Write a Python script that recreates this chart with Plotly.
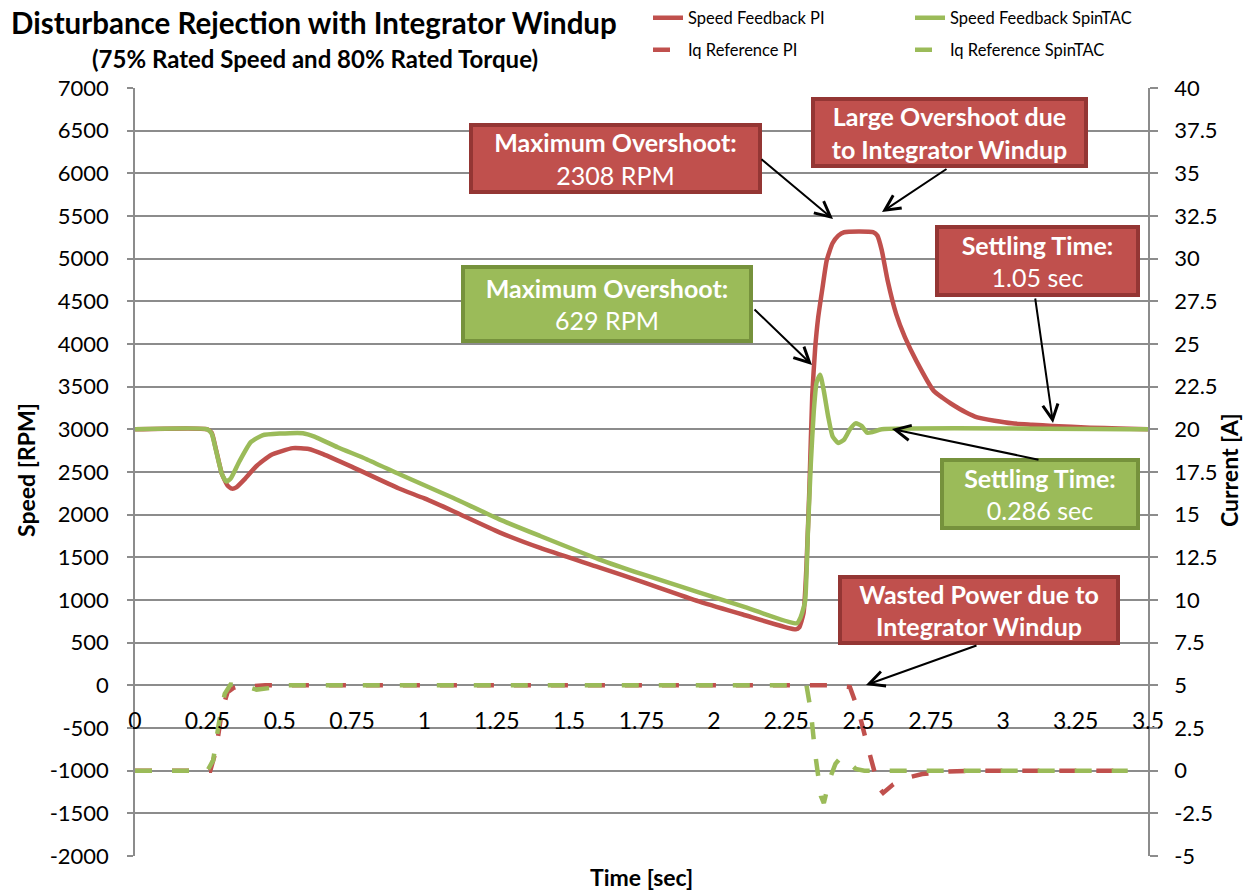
import plotly.graph_objects as go

# ---------------- data ----------------
t_speed_pi = [0, 0.25, 0.265, 0.28, 0.30, 0.32, 0.335, 0.35, 0.38, 0.42, 0.47, 0.545, 0.60, 0.65, 0.75,
              0.91, 1.0, 1.1, 1.259, 1.4, 1.603, 1.75, 1.948, 2.1, 2.283, 2.295, 2.31, 2.32, 2.33, 2.34,
              2.35, 2.36, 2.375, 2.39, 2.41, 2.43, 2.45, 2.55, 2.565, 2.58, 2.60, 2.63, 2.66, 2.70, 2.76,
              2.79, 2.82, 2.87, 2.91, 2.97, 3.03, 3.10, 3.17, 3.3, 3.4, 3.5]
speed_pi = [3000, 3000, 2960, 2760, 2480, 2340, 2305, 2320, 2420, 2570, 2700, 2780, 2770, 2710, 2560,
            2310, 2190, 2040, 1793, 1610, 1383, 1215, 984, 830, 656, 680, 850, 1400, 2300, 3400,
            3950, 4300, 4650, 4980, 5180, 5270, 5310, 5310, 5270, 5100, 4750, 4350, 4080, 3800, 3450,
            3370, 3300, 3200, 3140, 3100, 3070, 3055, 3040, 3020, 3010, 3000]

t_speed_st = [0, 0.25, 0.265, 0.28, 0.30, 0.315, 0.33, 0.36, 0.40, 0.44, 0.50, 0.58, 0.62, 0.70, 0.80,
              0.914, 1.0, 1.1, 1.259, 1.4, 1.603, 1.75, 1.948, 2.1, 2.286, 2.30, 2.315, 2.325, 2.335,
              2.345, 2.355, 2.367, 2.38, 2.395, 2.41, 2.43, 2.45, 2.47, 2.49, 2.51, 2.53, 2.55, 2.58, 3.5]
speed_st = [3000, 3000, 2950, 2750, 2480, 2390, 2420, 2620, 2850, 2930, 2950, 2955, 2915, 2790, 2650,
            2473, 2345, 2195, 1945, 1750, 1477, 1305, 1090, 925, 727, 800, 980, 1800, 2600,
            3200, 3550, 3640, 3450, 3150, 2920, 2840, 2880, 3000, 3070, 3040, 2960, 2970, 3000, 3000]

t_iq_pi = [0, 0.26, 0.28, 0.30, 0.32, 0.34, 0.37, 0.40, 0.45, 0.6, 2.41, 2.47, 2.50, 2.53, 2.55, 2.57,
           2.585, 2.62, 2.66, 2.72, 2.8, 2.9, 3.43]
iq_pi = [0, 0, 1.2, 3.5, 4.6, 4.85, 5.0, 4.95, 5.0, 5.0, 5.0, 4.9, 3.5, 1.5, 0.2, -1.0,
         -1.3, -0.8, -0.45, -0.2, -0.05, 0, 0]

t_iq_st = [0, 0.25, 0.27, 0.29, 0.31, 0.33, 0.37, 0.42, 0.47, 0.52, 2.32, 2.335, 2.35, 2.37, 2.38,
           2.40, 2.42, 2.44, 2.46, 2.49, 2.52, 3.43]
iq_st = [0, 0, 0.6, 2.8, 4.5, 5.05, 5.0, 4.75, 4.85, 5.0, 5.0, 3.5, 1.0, -1.5, -1.9,
         -0.5, 0.4, 0.8, 0.6, 0.1, 0.0, 0]

x_ticks = [0, 0.25, 0.5, 0.75, 1, 1.25, 1.5, 1.75, 2, 2.25, 2.5, 2.75, 3, 3.25, 3.5]
x_labels = ["0", "0.25", "0.5", "0.75", "1", "1.25", "1.5", "1.75", "2", "2.25", "2.5", "2.75",
            "3", "3.25", "3.5"]
y_ticks = list(range(-2000, 7001, 500))
y_labels = [str(v) for v in y_ticks]
y2_ticks = [-5, -2.5, 0, 2.5, 5, 7.5, 10, 12.5, 15, 17.5, 20, 22.5, 25, 27.5, 30, 32.5, 35, 37.5, 40]
y2_labels = ["-5", "-2.5", "0", "2.5", "5", "7.5", "10", "12.5", "15", "17.5", "20", "22.5", "25",
             "27.5", "30", "32.5", "35", "37.5", "40"]

# ---------------- styling ----------------
RED = "#C0504D"
GREEN = "#9BBB59"
RED_BORDER = "#943634"
GREEN_BORDER = "#76923C"
GRID = "#8C8C8C"
FONT = "Lato"

W, H = 1249, 890
L, R, T, B = 135, 101, 88, 34
PW, PH = W - L - R, H - T - B


def px(xp):
    return (xp - L) / PW


def py(yp):
    return (H - B - yp) / PH


fig = go.Figure()
fig.add_trace(go.Scatter(x=t_speed_pi, y=speed_pi, name="Speed Feedback PI", mode="lines",
                         line=dict(color=RED, width=4.5, shape="spline", smoothing=0.5), legend="legend"))
fig.add_trace(go.Scatter(x=t_iq_pi, y=iq_pi, name="Iq Reference PI", mode="lines", yaxis="y2",
                         line=dict(color=RED, width=4.5, dash="17px,20px"), legend="legend3"))
fig.add_trace(go.Scatter(x=t_speed_st, y=speed_st, name="Speed Feedback SpinTAC", mode="lines",
                         line=dict(color=GREEN, width=4.5, shape="spline", smoothing=0.5), legend="legend2"))
fig.add_trace(go.Scatter(x=t_iq_st, y=iq_st, name="Iq Reference SpinTAC", mode="lines", yaxis="y2",
                         line=dict(color=GREEN, width=4.5, dash="17px,20px"), legend="legend4"))

annotations = []

# Title and subtitle
annotations.append(dict(text="<b>Disturbance Rejection with Integrator Windup</b>", xref="paper", yref="paper",
                        x=px(9), y=py(22), xanchor="left", yanchor="middle", showarrow=False,
                        font=dict(family=FONT, size=29.5, color="black")))
annotations.append(dict(text="<b>(75% Rated Speed and 80% Rated Torque)</b>", xref="paper", yref="paper",
                        x=px(315), y=py(58), xanchor="center", yanchor="middle", showarrow=False,
                        font=dict(family=FONT, size=24, color="black")))
# Axis titles
annotations.append(dict(text="<b>Time [sec]</b>", xref="paper", yref="paper", x=px(641), y=py(877),
                        xanchor="center", yanchor="middle", showarrow=False,
                        font=dict(family=FONT, size=23, color="black")))
annotations.append(dict(text="<b>Speed [RPM]</b>", xref="paper", yref="paper", x=px(26), y=py(470),
                        xanchor="center", yanchor="middle", showarrow=False, textangle=-90,
                        font=dict(family=FONT, size=23, color="black")))
annotations.append(dict(text="<b>Current [A]</b>", xref="paper", yref="paper", x=px(1229), y=py(470),
                        xanchor="center", yanchor="middle", showarrow=False, textangle=-90,
                        font=dict(family=FONT, size=23, color="black")))

# Callout boxes: (text, left, top, right, bottom, fill, border)
boxes = [
    ("<b>Maximum Overshoot:</b><br>2308 RPM", 469, 123, 762, 194, RED, RED_BORDER),
    ("<b>Large Overshoot due<br>to Integrator Windup</b>", 811, 97, 1088, 168, RED, RED_BORDER),
    ("<b>Settling Time:</b><br>1.05 sec", 935, 225, 1140, 297, RED, RED_BORDER),
    ("<b>Maximum Overshoot:</b><br>629 RPM", 461, 265, 753, 343, GREEN, GREEN_BORDER),
    ("<b>Settling Time:</b><br>0.286 sec", 940, 458, 1140, 530, GREEN, GREEN_BORDER),
    ("<b>Wasted Power due to<br>Integrator Windup</b>", 838, 575, 1120, 645, RED, RED_BORDER),
]
BW = 4
for text, x0, y0, x1, y1, fill, border in boxes:
    annotations.append(dict(text=text, xref="paper", yref="paper", x=px((x0 + x1) / 2), y=py((y0 + y1) / 2),
                            xanchor="center", yanchor="middle", showarrow=False,
                            width=x1 - x0 - 2 * BW, height=y1 - y0 - 2 * BW, borderpad=0,
                            bgcolor=fill, bordercolor=border, borderwidth=BW, align="center", valign="middle",
                            font=dict(family=FONT, size=25, color="white")))

# Arrows: (head x, head y, tail x, tail y) in pixels
arrows = [
    (833, 219, 760, 158),
    (882, 212, 948, 168),
    (1053, 423, 1035, 297),
    (812, 365, 753, 308),
    (892, 429, 1040, 460),
    (866, 685, 978, 645),
]
for hx, hy, tx, ty in arrows:
    annotations.append(dict(text="", xref="paper", yref="paper", x=px(hx), y=py(hy),
                            ax=tx - hx, ay=ty - hy, axref="pixel", ayref="pixel", showarrow=True,
                            arrowhead=5, arrowsize=1.5, arrowwidth=2, arrowcolor="black", standoff=0))

legend_font = dict(family=FONT, size=16.5, color="black")


def legend_at(xp, yp):
    return dict(x=px(xp), y=py(yp), xanchor="left", yanchor="middle", bgcolor="rgba(0,0,0,0)",
                font=legend_font, tracegroupgap=0)


fig.update_layout(
    width=W, height=H,
    margin=dict(l=L, r=R, t=T, b=B, autoexpand=False),
    paper_bgcolor="white", plot_bgcolor="white",
    font=dict(family=FONT, size=22, color="black"),
    xaxis=dict(range=[0, 3.5], tickvals=x_ticks, ticktext=x_labels, showgrid=False, zeroline=False,
               showline=False, ticks="", anchor="free", position=2000 / 9000, ticklabelstandoff=20,
               tickfont=dict(family=FONT, size=23, color="black")),
    yaxis=dict(range=[-2000, 7000], tickvals=y_ticks, ticktext=y_labels, showgrid=True, gridcolor=GRID,
               gridwidth=1.5, zeroline=False, showline=True, linecolor=GRID, linewidth=1.5,
               ticks="outside", ticklen=6, tickcolor=GRID, tickwidth=1.5, ticklabelstandoff=14,
               tickfont=dict(family=FONT, size=22, color="black")),
    yaxis2=dict(range=[-5, 40], tickvals=y2_ticks, ticktext=y2_labels, overlaying="y", side="right",
                showgrid=False, zeroline=False, showline=True, linecolor=GRID, linewidth=1.5,
                ticks="outside", ticklen=8, tickcolor=GRID, tickwidth=1.5, ticklabelstandoff=12,
                tickfont=dict(family=FONT, size=22, color="black")),
    legend=legend_at(648, 18),
    legend2=legend_at(910, 18),
    legend3=legend_at(648, 50),
    legend4=legend_at(910, 50),
    annotations=annotations,
    showlegend=True,
)

fig.write_html("out.html", config={"displayModeBar": False},
               post_script="document.body.style.margin='0';")
